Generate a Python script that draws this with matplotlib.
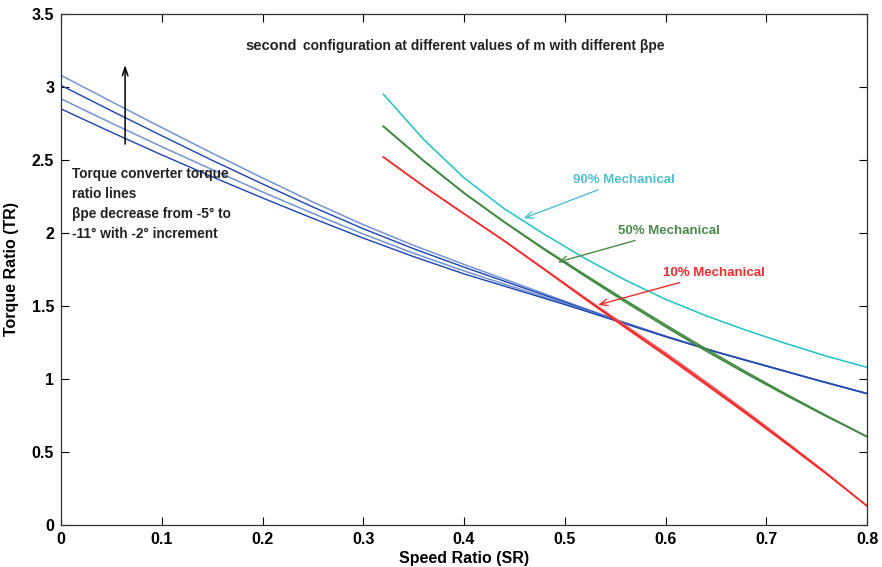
import matplotlib
matplotlib.use("Agg")
import matplotlib.pyplot as plt

plt.rcParams['font.family'] = ['Liberation Sans', 'DejaVu Sans']

# ---- data ----
sr_tc = [0.0, 0.05, 0.1, 0.15, 0.2, 0.25, 0.3, 0.35, 0.4, 0.45, 0.5, 0.55, 0.6, 0.65, 0.7, 0.75, 0.8]
tr_bpe_5 = [3.08, 2.90, 2.722, 2.547, 2.377, 2.212, 2.057, 1.915, 1.785, 1.659, 1.533, 1.409, 1.294, 1.187, 1.09, 0.993, 0.90]
tr_bpe_7 = [3.011, 2.837, 2.666, 2.498, 2.336, 2.178, 2.029, 1.892, 1.766, 1.646, 1.526, 1.406, 1.293, 1.186, 1.09, 0.993, 0.90]
tr_bpe_9 = [2.919, 2.753, 2.591, 2.434, 2.281, 2.134, 1.993, 1.861, 1.740, 1.628, 1.517, 1.403, 1.291, 1.186, 1.089, 0.993, 0.90]
tr_bpe_11 = [2.85, 2.69, 2.535, 2.385, 2.24, 2.10, 1.965, 1.838, 1.72, 1.615, 1.51, 1.40, 1.29, 1.185, 1.089, 0.993, 0.90]

sr_mech = [0.32, 0.36, 0.40, 0.44, 0.48, 0.52, 0.56, 0.60, 0.64, 0.68, 0.72, 0.76, 0.80]
tr_90 = [2.95, 2.64, 2.378, 2.166, 1.99, 1.826, 1.678, 1.546, 1.434, 1.334, 1.242, 1.156, 1.08]
tr_50_a = [2.73, 2.494, 2.274, 2.074, 1.885, 1.705, 1.528, 1.358, 1.193, 1.037, 0.887, 0.743, 0.605]
tr_50_b = [2.73, 2.494, 2.274, 2.076, 1.89, 1.714, 1.540, 1.371, 1.206, 1.048, 0.895, 0.748, 0.605]
tr_10_a = [2.52, 2.32, 2.132, 1.945, 1.748, 1.548, 1.352, 1.16, 0.962, 0.762, 0.556, 0.348, 0.13]
tr_10_b = [2.52, 2.32, 2.132, 1.947, 1.753, 1.558, 1.368, 1.18, 0.982, 0.780, 0.570, 0.356, 0.13]
tr_10_c = [2.52, 2.32, 2.132, 1.946, 1.750, 1.553, 1.360, 1.17, 0.972, 0.771, 0.563, 0.352, 0.13]

xticks = [0, 0.1, 0.2, 0.3, 0.4, 0.5, 0.6, 0.7, 0.8]
xticklabels = ['0', '0.1', '0.2', '0.3', '0.4', '0.5', '0.6', '0.7', '0.8']
yticks = [0, 0.5, 1, 1.5, 2, 2.5, 3, 3.5]
yticklabels = ['0', '0.5', '1', '1.5', '2', '2.5', '3', '3.5']

# ---- figure ----
fig = plt.figure(figsize=(8.82, 5.67), dpi=100)
ax = fig.add_axes([0.0692, 0.0741, 0.9138, 0.9012])

dark_blue = '#1c44b0'
light_blue = '#7493d6'
ax.plot(sr_tc, tr_bpe_5, color=light_blue, lw=1.1)
ax.plot(sr_tc, tr_bpe_7, color=dark_blue, lw=1.0)
ax.plot(sr_tc, tr_bpe_9, color=light_blue, lw=1.1)
ax.plot(sr_tc, tr_bpe_11, color=dark_blue, lw=1.0)

cyan = '#1ec2c6'
green = '#3f8a3f'
red = '#f02c2c'
ax.plot(sr_mech, tr_90, color=cyan, lw=1.1)
ax.plot(sr_mech, tr_50_a, color=green, lw=1.2)
ax.plot(sr_mech, tr_50_b, color=green, lw=1.2)
ax.plot(sr_mech, tr_10_a, color=red, lw=1.1)
ax.plot(sr_mech, tr_10_b, color='#f46060', lw=1.0)
ax.plot(sr_mech, tr_10_c, color=red, lw=1.0)

ax.set_xlim(0, 0.8)
ax.set_ylim(0, 3.5)
ax.set_xticks(xticks)
ax.set_xticklabels(xticklabels)
ax.set_yticks(yticks)
ax.set_yticklabels(yticklabels)
ax.tick_params(direction='in', top=True, right=True, length=6, width=0.8,
               labelsize=11.5, pad=5)
for lab in ax.get_xticklabels() + ax.get_yticklabels():
    lab.set_fontweight('bold')
for s in ax.spines.values():
    s.set_linewidth(0.9)
    s.set_color('#333333')

ax.set_xlabel('Speed Ratio (SR)', fontsize=11.5, fontweight='bold', labelpad=3)
ax.set_ylabel('Torque Ratio (TR)', fontsize=11.5, fontweight='bold', labelpad=9)

# title inside axes
ax.text(0.183, 3.28, 'second', fontsize=10.5, fontweight='bold', color='#222222',
        va='center', ha='left')
ax.text(0.2405, 3.28, 'configuration at different values of m with different βpe',
        fontsize=9.9, fontweight='bold', color='#222222', va='center', ha='left')

# left annotation
ax.text(0.011, 2.455,
        'Torque converter torque\nratio lines\nβpe decrease from -5° to\n-11° with -2° increment',
        fontsize=9.8, fontweight='bold', color='#222222', va='top', ha='left',
        linespacing=1.55)
ax.annotate('', xy=(0.0636, 3.17), xytext=(0.0636, 2.59),
            arrowprops=dict(arrowstyle='->,head_length=0.6,head_width=0.2',
                            color='black', lw=1.1))

# mechanical labels
ax.annotate('90% Mechanical', xy=(0.459, 2.10), xytext=(0.508, 2.363),
            fontsize=9.5, fontweight='bold', color='#4fc0cc', va='center', ha='left',
            arrowprops=dict(arrowstyle='->,head_length=0.6,head_width=0.25',
                            color='#4fc0cc', lw=1.0, shrinkA=2, shrinkB=0))
ax.annotate('50% Mechanical', xy=(0.493, 1.80), xytext=(0.553, 2.014),
            fontsize=9.5, fontweight='bold', color='#4a8a4a', va='center', ha='left',
            arrowprops=dict(arrowstyle='->,head_length=0.6,head_width=0.25',
                            color='#4a8a4a', lw=1.0, shrinkA=2, shrinkB=0))
ax.annotate('10% Mechanical', xy=(0.533, 1.507), xytext=(0.598, 1.726),
            fontsize=9.5, fontweight='bold', color=red, va='center', ha='left',
            arrowprops=dict(arrowstyle='->,head_length=0.6,head_width=0.25',
                            color=red, lw=1.0, shrinkA=2, shrinkB=0))

fig.savefig('out.png', dpi=100)
